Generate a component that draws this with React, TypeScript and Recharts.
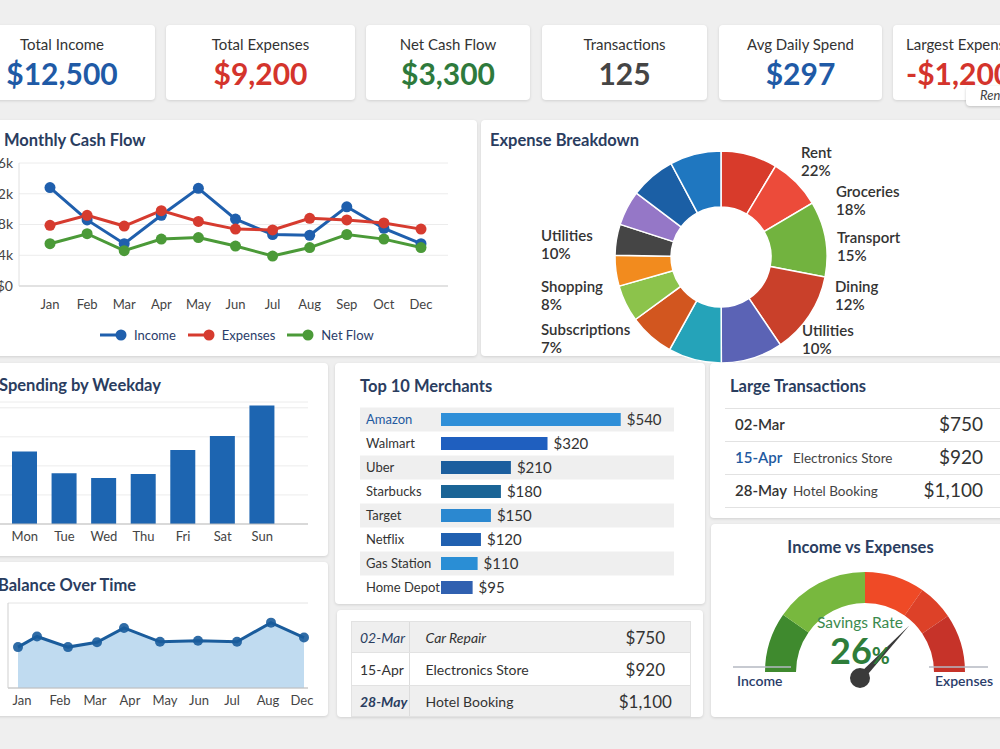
import React from 'react'
import {
  LineChart, Line, XAxis, YAxis, CartesianGrid, PieChart, Pie, Cell,
  BarChart, Bar, AreaChart, Area, LabelList,
} from 'recharts'

const FONT = 'Lato, "Noto Sans", sans-serif'
const NAVY = '#2a3d5f'
const TEXT = '#333'

// KPI strip
const kpiLabels = ['Total Income', 'Total Expenses', 'Net Cash Flow', 'Transactions', 'Avg Daily Spend', 'Largest Expense']
const kpiValues = ['$12,500', '$9,200', '$3,300', '125', '$297', '-$1,200']
const kpiColors = ['#1f5aa6', '#d4342c', '#2e7a3c', '#454545', '#1f5aa6', '#d4342c']
const kpiBoxes = [
  { left: -31, width: 186 },
  { left: 166, width: 189 },
  { left: 366, width: 164 },
  { left: 542, width: 165 },
  { left: 719, width: 163 },
  { left: 893, width: 175 },
]

// Monthly cash flow, in $k
const months = ['Jan', 'Feb', 'Mar', 'Apr', 'May', 'Jun', 'Jul', 'Aug', 'Sep', 'Oct', 'Dec']
const income = [12.8, 8.6, 5.5, 9.2, 12.7, 8.7, 6.7, 6.6, 10.3, 7.5, 5.5]
const expenses = [7.9, 9.2, 7.8, 9.8, 8.4, 7.4, 7.3, 8.8, 8.6, 8.2, 7.4]
const netFlow = [5.5, 6.8, 4.6, 6.1, 6.3, 5.2, 3.9, 5.0, 6.7, 6.1, 5.0]
const cashTicks = [0, 4, 8, 12, 16]

const cashSeries = [
  { key: 'income', name: 'Income', color: '#1f5fad' },
  { key: 'expenses', name: 'Expenses', color: '#d63b2f' },
  { key: 'net', name: 'Net Flow', color: '#4b9a38' },
]

// Expense breakdown donut (share of spend, %)
const sliceValues = [8.6, 7.9, 11.5, 12.5, 9.4, 8.1, 6.9, 5.6, 4.7, 4.7, 5.3, 6.9, 7.8]
const sliceColors = [
  '#d83b2b', '#ec4b3a', '#72b33f', '#c9402a', '#5b63b5', '#25a3b9', '#d2561f',
  '#8cc34b', '#f28b1e', '#454545', '#9577c7', '#1b5fa5', '#1f77c0',
]
const breakdownNames = ['Rent', 'Groceries', 'Transport', 'Dining', 'Utilities', 'Utilities', 'Shopping', 'Subscriptions']
const breakdownPcts = [22, 18, 15, 12, 10, 10, 8, 7]
const breakdownSpots = [
  { left: 801, top: 143 }, { left: 836, top: 182 }, { left: 837, top: 228 }, { left: 835, top: 277 },
  { left: 802, top: 321 }, { left: 541, top: 226 }, { left: 541, top: 277 }, { left: 541, top: 320 },
]

// Spending by weekday
const weekdays = ['Mon', 'Tue', 'Wed', 'Thu', 'Fri', 'Sat', 'Sun']
const weekdaySpend = [250, 175, 158, 172, 255, 303, 408]

// Balance over time
const balanceDays = [10, 29, 60, 89, 116, 152, 190, 229, 263, 296]
const balance = [3850, 4850, 3850, 4300, 5650, 4350, 4450, 4350, 6150, 4750]
const balanceTickDays = [14, 52, 87, 122, 157, 191, 224, 260, 294]
const balanceTickLabels = ['Jan', 'Feb', 'Mar', 'Apr', 'May', 'Jun', 'Jul', 'Aug', 'Dec']

// Top merchants
const merchants = ['Amazon', 'Walmart', 'Uber', 'Starbucks', 'Target', 'Netflix', 'Gas Station', 'Home Depot']
const merchantSpend = [540, 320, 210, 180, 150, 120, 110, 95]
const merchantColors = ['#2f8fd8', '#1f5fbf', '#1b5e9e', '#1a6496', '#2b88d0', '#2060b0', '#2a8ed5', '#3060b0']

// Large transactions
const txDates = ['02-Mar', '15-Apr', '28-May']
const txShortDescs = ['', 'Electronics Store', 'Hotel Booking']
const txDescs = ['Car Repair', 'Electronics Store', 'Hotel Booking']
const txAmounts = ['$750', '$920', '$1,100']

// Gauge bands (degrees of the half circle), income side to expense side
const gaugeBands = [35, 55, 35, 21, 34]
const gaugeColors = ['#3f8a2e', '#78b83e', '#ef4a26', '#dd4128', '#c63329']
const savingsRate = 26

const cashRows = months.map((m, i) => ({ month: m, income: income[i], expenses: expenses[i], net: netFlow[i] }))
const sliceRows = sliceValues.map((v, i) => ({ id: i, value: v }))
const weekdayRows = weekdays.map((d, i) => ({ day: d, spend: weekdaySpend[i] }))
const balanceRows = balanceDays.map((d, i) => ({ day: d, balance: balance[i] }))
const merchantRows = merchants.map((m, i) => ({ name: m, spend: merchantSpend[i] }))
const gaugeRows = gaugeBands.map((v, i) => ({ id: i, deg: v }))

const card: React.CSSProperties = {
  position: 'absolute',
  background: '#fff',
  borderRadius: 4,
  boxShadow: '0 1px 3px rgba(0,0,0,0.13)',
}

const title: React.CSSProperties = {
  position: 'absolute',
  fontSize: 16.5,
  fontWeight: 700,
  color: NAVY,
  whiteSpace: 'nowrap',
}

const abs = (left: number, top: number): React.CSSProperties => ({ position: 'absolute', left, top })

const tickStyle = { fontSize: 13, fill: '#444', fontFamily: FONT }

function KpiCard({ i }: { i: number }) {
  const box = kpiBoxes[i]
  const last = i === kpiLabels.length - 1
  return (
    <div style={{ ...card, left: box.left, top: 25, width: box.width, height: 75 }}>
      <div style={{
        position: 'absolute', top: 10, left: last ? 13 : 0, width: last ? undefined : '100%',
        textAlign: last ? 'left' : 'center', fontSize: 15, color: TEXT, whiteSpace: 'nowrap',
      }}>{kpiLabels[i]}</div>
      <div style={{
        position: 'absolute', top: 33, left: last ? 13 : 0, width: last ? undefined : '100%', lineHeight: '30px',
        textAlign: last ? 'left' : 'center', fontSize: 30, fontWeight: 700, color: kpiColors[i], whiteSpace: 'nowrap',
      }}>{kpiValues[i]}</div>
    </div>
  )
}

function CashLegend() {
  return (
    <div style={{ ...abs(100, 327), display: 'flex', gap: 12, fontSize: 13, color: '#2a3d6a' }}>
      {cashSeries.map(s => (
        <div key={s.key} style={{ display: 'flex', alignItems: 'center', gap: 6 }}>
          <svg width={28} height={14}>
            <line x1={0} y1={7} x2={20} y2={7} stroke={s.color} strokeWidth={3} />
            <circle cx={21} cy={7} r={5.5} fill={s.color} />
          </svg>
          <span>{s.name}</span>
        </div>
      ))}
    </div>
  )
}

function MerchantStripe(props: any) {
  const { x, y, width, height, index } = props
  if (index % 2 === 1) return null
  const rowH = 24
  return <rect x={x - 81} y={y - (rowH - height) / 2} width={width + 81} height={rowH} fill="#efefef" />
}

function MerchantTick(props: any) {
  const { y, payload } = props
  const first = payload.value === merchants[0]
  return (
    <text x={31} y={y} dy={5} textAnchor="start" fontSize={13} fontFamily={FONT}
      fill={first ? '#1f5aa0' : TEXT}>{payload.value}</text>
  )
}

function Gauge() {
  const cx = 860
  const cy = 667
  // needle sits where expenses fall between income (left) and expenses (right)
  const a = Math.PI * savingsRate / 100
  const hx = cx
  const hy = cy + 11
  const len = 72
  const tx = hx + len * Math.cos(a)
  const ty = hy - len * Math.sin(a)
  const nx = Math.sin(a)
  const ny = Math.cos(a)
  const w = 3.5
  const pts = `${hx - nx * w},${hy - ny * w} ${tx},${ty} ${hx + nx * w},${hy + ny * w}`
  return (
    <>
      <div style={abs(740, 555)}>
        <PieChart width={240} height={125}>
          <Pie data={gaugeRows} dataKey="deg" cx={120} cy={112} startAngle={180} endAngle={0}
            innerRadius={69} outerRadius={100} stroke="none" isAnimationActive={false}>
            {gaugeRows.map((r) => <Cell key={r.id} fill={gaugeColors[r.id]} />)}
          </Pie>
        </PieChart>
      </div>
      <svg width={1000} height={749} style={{ position: 'absolute', left: 0, top: 0, pointerEvents: 'none' }}>
        <line x1={733} y1={cy} x2={791} y2={cy} stroke="#b4b8c2" strokeWidth={1.5} />
        <line x1={929} y1={cy} x2={988} y2={cy} stroke="#b4b8c2" strokeWidth={1.5} />
        <polygon points={pts} fill="#3a3a3a" />
        <circle cx={hx} cy={hy} r={10} fill="#3a3a3a" />
      </svg>
      <div style={{ ...abs(760, 613), width: 200, textAlign: 'center', fontSize: 15.5, color: '#3b8a4e' }}>Savings Rate</div>
      <div style={{ ...abs(760, 628), width: 200, textAlign: 'center', color: '#2e7d3a', fontWeight: 700 }}>
        <span style={{ fontSize: 36 }}>{savingsRate}</span><span style={{ fontSize: 22 }}>%</span>
      </div>
      <div style={{ ...abs(737, 672), fontSize: 14, fontWeight: 600, color: '#2a3d6a' }}>Income</div>
      <div style={{ ...abs(935, 672), fontSize: 14, fontWeight: 600, color: '#2a3d6a' }}>Expenses</div>
    </>
  )
}

export default function App() {
  return (
    <div style={{
      position: 'fixed', left: 0, top: 0, width: 1000, height: 749, overflow: 'hidden',
      background: '#efefef', fontFamily: FONT, color: TEXT,
    }}>
      {kpiLabels.map((_, i) => <KpiCard key={i} i={i} />)}
      <div style={{ ...card, left: 966, top: 86, width: 50, height: 20, boxShadow: '0 1px 3px rgba(0,0,0,0.2)' }}>
        <div style={{ position: 'absolute', left: 14, top: 1, fontSize: 13, fontStyle: 'italic', color: '#444' }}>Rent</div>
      </div>

      {/* Monthly cash flow */}
      <div style={{ ...card, left: -10, top: 120, width: 487, height: 236 }} />
      <div style={{ ...title, left: 4, top: 130 }}>Monthly Cash Flow</div>
      <div style={abs(-31, 150)}>
        <LineChart width={500} height={200} data={cashRows} margin={{ top: 13, right: 21, left: 0, bottom: 34 }}>
          <CartesianGrid vertical={false} stroke="#ececec" />
          <XAxis dataKey="month" padding={{ left: 31, right: 27 }} tickLine={false} tickMargin={8}
            axisLine={{ stroke: '#cfcfcf' }} tick={tickStyle} interval={0} />
          <YAxis width={50} domain={[0, 16]} ticks={cashTicks} tickLine={false} tickMargin={0}
            axisLine={{ stroke: '#e0e0e0' }} tick={{ ...tickStyle, fontSize: 14 }}
            tickFormatter={(v: number) => (v === 0 ? '$0' : `$${v}k`)} />
          {cashSeries.map(s => (
            <Line key={s.key} type="linear" dataKey={s.key} stroke={s.color} strokeWidth={3}
              dot={{ r: 5.5, fill: s.color, stroke: s.color, strokeWidth: 0 }} isAnimationActive={false} />
          ))}
        </LineChart>
      </div>
      <CashLegend />

      {/* Expense breakdown */}
      <div style={{ ...card, left: 481, top: 120, width: 530, height: 236 }} />
      <div style={{ ...title, left: 490, top: 130 }}>Expense Breakdown</div>
      <div style={abs(600, 140)}>
        <PieChart width={235} height={225}>
          <Pie data={sliceRows} dataKey="value" cx={116} cy={112} startAngle={90} endAngle={-270}
            innerRadius={50} outerRadius={106} stroke="#fff" strokeWidth={1.5} isAnimationActive={false}>
            {sliceRows.map(r => <Cell key={r.id} fill={sliceColors[r.id]} />)}
          </Pie>
        </PieChart>
      </div>
      {breakdownNames.map((n, i) => (
        <div key={i} style={{ ...abs(breakdownSpots[i].left, breakdownSpots[i].top), fontSize: 15, fontWeight: 600, color: TEXT, lineHeight: '18px' }}>
          <div>{n}</div>
          <div>{breakdownPcts[i]}%</div>
        </div>
      ))}

      {/* Spending by weekday */}
      <div style={{ ...card, left: -10, top: 363, width: 338, height: 193 }} />
      <div style={{ ...title, left: -1, top: 375 }}>Spending by Weekday</div>
      <div style={abs(-15, 390)}>
        <BarChart width={335} height={164} data={weekdayRows} margin={{ top: 12, right: 12, left: 0, bottom: 0 }}>
          <CartesianGrid vertical={false} stroke="#ececec" />
          <XAxis dataKey="day" padding={{ left: 20, right: 26 }} tickLine={false}
            axisLine={{ stroke: '#bdbdbd' }} tick={tickStyle} interval={0} />
          <YAxis hide domain={[0, 420]} ticks={[0, 100, 200, 300, 400]} />
          <Bar dataKey="spend" fill="#1d65b1" barSize={25} isAnimationActive={false} />
        </BarChart>
      </div>

      {/* Balance over time */}
      <div style={{ ...card, left: -10, top: 562, width: 338, height: 154 }} />
      <div style={{ ...title, left: -2, top: 575 }}>Balance Over Time</div>
      <div style={abs(-22, 596)}>
        <AreaChart width={340} height={122} data={balanceRows} margin={{ top: 7, right: 10, left: 0, bottom: 0 }}>
          <CartesianGrid vertical={false} stroke="#e4e4e4" />
          <XAxis dataKey="day" type="number" domain={[0, 300]} ticks={balanceTickDays} tickLine={false}
            axisLine={{ stroke: '#bdbdbd' }} tick={tickStyle} interval={0}
            tickFormatter={(v: number) => balanceTickLabels[balanceTickDays.indexOf(v)]} />
          <YAxis width={30} domain={[0, 8000]} ticks={[0, 2000, 4000, 6000, 8000]} tick={false}
            tickLine={false} axisLine={{ stroke: '#cfcfcf' }} />
          <Area type="linear" dataKey="balance" stroke="#1a5c9c" strokeWidth={3} fill="#b9d7ee" fillOpacity={0.9}
            dot={{ r: 5, fill: '#1a5c9c', stroke: '#1a5c9c', strokeWidth: 0 }} isAnimationActive={false} />
        </AreaChart>
      </div>

      {/* Top merchants */}
      <div style={{ ...card, left: 335, top: 363, width: 370, height: 241 }} />
      <div style={{ ...title, left: 360, top: 376 }}>Top 10 Merchants</div>
      <div style={abs(335, 400)}>
        <BarChart width={360} height={205} data={merchantRows} layout="vertical"
          margin={{ top: 7, right: 21, left: 0, bottom: 6 }}>
          <XAxis type="number" hide domain={[0, 700]} />
          <YAxis type="category" dataKey="name" width={106} axisLine={false} tickLine={false}
            tick={<MerchantTick />} interval={0} />
          <Bar dataKey="spend" barSize={13} background={(p: any) => <MerchantStripe {...p} />} isAnimationActive={false}>
            {merchantRows.map((r, i) => <Cell key={r.name} fill={merchantColors[i]} />)}
            <LabelList dataKey="spend" position="right" offset={6} fill={TEXT} fontSize={15}
              formatter={(v: any) => `$${v}`} />
          </Bar>
        </BarChart>
      </div>

      {/* Recent large transactions table */}
      <div style={{ ...card, left: 337, top: 610, width: 366, height: 107 }} />
      <div style={{ ...abs(351, 621), width: 338, border: '1px solid #e2e2e2' }}>
        {txDates.map((d, i) => (
          <div key={d} style={{
            display: 'flex', alignItems: 'center', height: i === 1 ? 32 : 30,
            background: i === 1 ? '#fff' : '#efefef', borderTop: i ? '1px solid #e2e2e2' : 'none',
          }}>
            <div style={{
              width: 60, height: '100%', display: 'flex', alignItems: 'center', paddingLeft: 8, boxSizing: 'border-box',
              borderRight: '1px solid #dcdcdc', fontSize: 14,
              fontStyle: i === 1 ? 'normal' : 'italic', fontWeight: i === 2 ? 700 : 400,
              color: i === 1 ? TEXT : NAVY,
            }}>{d}</div>
            <div style={{ width: 184, paddingLeft: 16, fontSize: 14, fontStyle: i === 0 ? 'italic' : 'normal' }}>{txDescs[i]}</div>
            <div style={{ width: 94, textAlign: 'center', fontSize: 17 }}>{txAmounts[i]}</div>
          </div>
        ))}
      </div>

      {/* Large transactions */}
      <div style={{ ...card, left: 710, top: 363, width: 300, height: 155 }} />
      <div style={{ ...title, left: 730, top: 376 }}>Large Transactions</div>
      <div style={{ ...abs(725, 408), width: 285 }}>
        {txDates.map((d, i) => (
          <div key={d} style={{
            position: 'relative', height: 32, borderTop: '1px solid #e2e2e2',
            borderBottom: i === 2 ? '1px solid #e2e2e2' : 'none',
          }}>
            <div style={{ position: 'absolute', left: 10, top: 6, fontSize: 15, fontWeight: 600, color: i === 1 ? '#1f5a9f' : TEXT }}>{d}</div>
            <div style={{ position: 'absolute', left: 68, top: 8, fontSize: 13.5, color: '#444' }}>{txShortDescs[i]}</div>
            <div style={{ position: 'absolute', right: 27, top: 3, fontSize: 19, color: TEXT }}>{txAmounts[i]}</div>
          </div>
        ))}
      </div>

      {/* Income vs expenses gauge */}
      <div style={{ ...card, left: 711, top: 524, width: 299, height: 193 }} />
      <div style={{ ...title, left: 711, top: 537, width: 299, textAlign: 'center' }}>Income vs Expenses</div>
      <Gauge />
    </div>
  )
}
